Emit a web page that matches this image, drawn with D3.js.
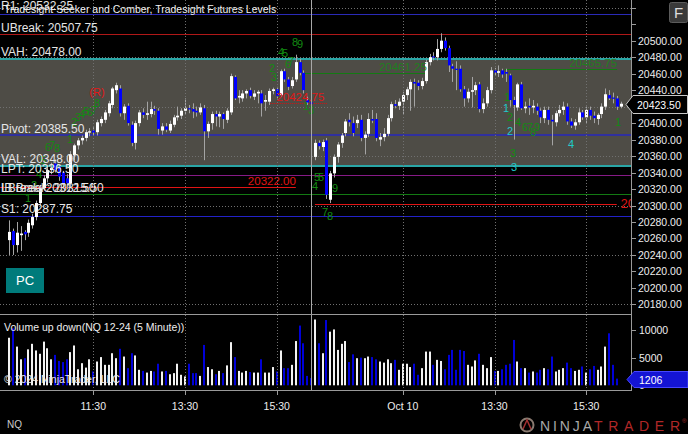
<!DOCTYPE html>
<html><head><meta charset="utf-8">
<script src="https://cdn.jsdelivr.net/npm/d3@7"></script>
<style>
html,body{margin:0;padding:0;background:#000;overflow:hidden}
svg{display:block;font-family:"Liberation Sans",Arial,sans-serif}
</style></head><body>
<svg id="c" width="688" height="434"></svg>
<script>
// ---------- DATA ----------
const firstBar = 2; // bar index of first bar (index 0 = 09:30 Oct 9, 5-minute bars)
const open = [20258,20269,20252,20264,20268,20267,20276,20286,20303,20321,
20333,20343,20351,20347,20340,20333,20327,20361,20373,20379,
20382,20389,20391,20389,20400,20404,20412,20422,20440,20442,
20412,20421,20398,20376,20400,20413,20410,20411,20417,20415,
20391,20396,20391,20398,20407,20409,20415,20418,20417,20415,
20413,20418,20390,20400,20411,20408,20411,20404,20413,20456,
20431,20430,20436,20440,20432,20436,20436,20426,20426,20439,
20441,20434,20463,20453,20445,20453,20474,20461,20428,20425,
20359,20376,20371,20379,20307,20339,20359,20376,20388,20404,
20400,20400,20404,20382,20387,20405,20405,20380,20383,20387,
20406,20423,20421,20426,20434,20441,20450,20449,20445,20451,
20474,20481,20480,20490,20500,20491,20469,20466,20466,20441,
20430,20438,20440,20447,20417,20424,20440,20464,20461,20464,
20462,20458,20428,20419,20447,20418,20421,20419,20420,20415,
20406,20416,20404,20401,20412,20416,20420,20402,20397,20401,
20413,20407,20416,20409,20405,20411,20420,20434,20431,20430,
20420];
const high = [20282,20272,20280,20275,20270,20283,20290,20306,20325,20337,
20348,20352,20356,20350,20342,20338,20366,20375,20382,20385,
20392,20394,20395,20404,20408,20416,20427,20444,20449,20446,
20423,20424,20402,20403,20416,20418,20426,20426,20421,20418,
20400,20400,20403,20410,20420,20418,20430,20422,20424,20420,
20424,20422,20402,20414,20415,20414,20413,20418,20460,20458,
20440,20440,20441,20443,20440,20440,20440,20434,20442,20443,
20444,20465,20466,20456,20456,20483,20478,20464,20432,20426,
20380,20379,20380,20382,20342,20362,20377,20388,20405,20412,
20408,20410,20410,20390,20412,20416,20412,20388,20394,20410,
20426,20428,20430,20438,20444,20453,20454,20452,20455,20477,
20484,20486,20502,20509,20504,20494,20472,20475,20470,20445,
20442,20456,20450,20450,20430,20444,20468,20467,20470,20466,
20466,20460,20432,20449,20450,20426,20430,20428,20424,20418,
20420,20420,20410,20415,20422,20426,20424,20406,20405,20418,
20416,20420,20420,20414,20412,20424,20442,20440,20437,20433,
20426];
const low = [20240,20240,20243,20245,20258,20262,20272,20282,20300,20318,
20328,20338,20340,20330,20322,20320,20322,20355,20368,20374,
20378,20384,20385,20385,20396,20400,20408,20418,20436,20408,
20404,20397,20372,20368,20396,20406,20404,20407,20410,20386,
20386,20389,20388,20395,20403,20405,20411,20412,20406,20408,
20410,20355,20382,20392,20396,20395,20393,20400,20410,20428,
20424,20426,20430,20430,20428,20424,20408,20415,20422,20435,
20430,20432,20450,20440,20442,20450,20458,20436,20422,20424,
20355,20368,20366,20308,20303,20334,20352,20370,20384,20396,
20384,20394,20378,20362,20383,20400,20378,20372,20378,20384,
20402,20418,20416,20410,20428,20415,20420,20440,20441,20448,
20470,20476,20476,20486,20488,20462,20450,20440,20438,20420,
20425,20419,20434,20413,20412,20420,20436,20458,20456,20455,
20450,20420,20380,20415,20416,20412,20410,20412,20410,20400,
20400,20398,20373,20396,20408,20410,20398,20394,20392,20398,
20404,20400,20404,20400,20398,20406,20416,20428,20424,20416,
20418];
const close = [20268,20252,20267,20266,20265,20279,20286,20303,20321,20333,
20343,20346,20343,20335,20326,20327,20362,20373,20379,20382,
20389,20390,20388,20401,20405,20413,20424,20442,20446,20412,
20420,20400,20376,20400,20413,20410,20412,20417,20415,20393,
20396,20392,20399,20407,20409,20415,20418,20417,20414,20413,
20419,20390,20399,20411,20408,20411,20405,20415,20457,20430,
20433,20436,20439,20433,20436,20438,20424,20428,20439,20441,
20433,20463,20453,20444,20452,20474,20461,20440,20425,20424.75,
20376,20372,20377,20313,20339,20359,20374,20385,20402,20401,
20388,20404,20382,20386,20405,20403,20382,20383,20387,20406,
20423,20421,20426,20434,20441,20450,20448,20445,20451,20474,
20480,20480,20490,20500,20491,20470,20466,20465,20441,20430,
20438,20440,20446,20417,20424,20440,20464,20461,20463,20459,
20460,20428,20422,20447,20418,20420,20419,20421,20415,20407,
20416,20404,20402,20412,20416,20420,20402,20397,20401,20413,
20407,20416,20409,20406,20410,20420,20435,20430,20430,20420,
20423.5];
const volume = [8600,10300,7000,4700,4900,6500,7500,6300,5700,7900,
6700,4700,5500,4400,4200,4700,6000,7200,2900,4000,
3200,4700,2500,4300,5100,3700,3700,5800,4900,6600,
5200,3100,5800,5400,2800,2600,2300,2600,2500,3900,
2500,2600,2000,2200,3900,1900,1600,3900,2200,2200,
1700,7300,3300,2900,2000,2600,2200,3600,7800,5100,
2600,2300,2600,2400,2300,2300,4700,2300,2300,3300,
2500,6300,3100,3100,3700,8000,10800,7600,1700,1300,
11900,7600,5800,11800,9700,10100,6400,7500,8000,4200,
5600,4900,5000,4900,5200,5100,4700,4300,4100,4700,
4000,4600,2800,3900,3900,3300,3900,1900,3100,6100,
6100,3700,4600,4400,2900,5500,6400,2800,6400,6200,
3700,3400,4500,5700,3700,3100,5100,2600,2600,2900,
3700,3900,8200,4300,3100,3100,2300,2500,2300,2800,
3100,2900,5200,2500,2800,3100,4100,3100,2600,2800,
3400,2300,2900,3500,2800,3400,7000,9400,3700,1206];
const lastPrice = 20423.50;
const lastVolume = 1206;

const timeTickIdx = [24, 48, 72, 105, 129, 153];
const timeTickLabels = ["11:30", "13:30", "15:30", "Oct 10", "13:30", "15:30"];
const sessionBreakIdx = 80.9;

const priceTicks = d3.range(20180, 20541, 20);
const priceLabelMax = 20500;
const priceGrid = [20180, 20240, 20300, 20360, 20420, 20480, 20540];
const volTicks = [0, 5000, 10000];

const levelNames  = ["R1", "UBreak", "VAH", "Pivot", "VAL", "LPT", "LBreak", "S1"];
const levelValues = [20532.25, 20507.75, 20478.00, 20385.50, 20348.00, 20336.50, 20313.50, 20287.75];
const levelText   = ["20532.25", "20507.75", "20478.00", "20385.50", "20348.00", "20336.50", "20312.50", "20287.75"];
const levelColors = ["#2a2ab8", "#b01818", "#2aa6a6", "#30309e", "#2aa6a6", "#861a86", "#137a13", "#2222c8"];
const levelWidths = [1, 1, 2, 2, 2, 1, 1, 1];
const extraLabel = "IB Break: 20315.50";

const segValues = [20322.00, 20302.25, 20461.25, 20465.75, 20424.75];
const segStart  = [-0.5, 82, 78.9, 131.7, 70.2];
const segEnd    = [77.0, 161, 111.3, 161.1, 85.2];
const segColors = ["#e01414", "#e01414", "#137a13", "#137a13", "#d01414"];

const greenText = ["1","2","4","5","6","7","8","1","2","3","4","5","6","7","8",
  "2","3","4","5","6","7","8","9","1","3",
  "5","5","4","9","7","8",
  "1","2","4","6","7","8","9","3","1"];
const greenIdx = [6.91,8.48,9.79,10.83,12.14,13.19,14.5,17.9,18.95,20,21.04,22.09,23.14,24.18,24.97,
  70.77,71.3,73.12,74.17,74.95,75.74,76.78,78.1,79.67,80.97,
  82.54,83.59,82.02,87.25,84.64,85.95,
  132.27,133.05,135.15,136.98,138.29,139.08,140.12,133.84,161.32];
const greenPrice = [20309.1,20324.9,20338.2,20355.2,20371,20373.4,20369.8,20380.7,20401.3,20407.4,20411,20414.7,20413.5,20415.9,20424.4,
  20466.9,20455.9,20486.3,20485.1,20471.7,20475.4,20498.4,20496,20420.8,20415.9,
  20334.6,20334.6,20323.7,20321.2,20292.1,20287.3,
  20431.7,20407.4,20401.3,20395.3,20395.3,20389.2,20395.3,20363.7,20401.3];
const cyanText = ["1","2","3","4"];
const cyanIdx = [132.01,133.05,134.1,149.02];
const cyanPrice = [20418.3,20390.4,20346.7,20374.6];
const rMarkIdx = 24.97, rMarkPrice = 20437.7;

// ---------- LAYOUT ----------
const W = 688, H = 434;
const plotRight = 631, priceBottom = 314, volBottom = 390;
const x = d3.scaleLinear().domain([0, 162]).range([1.6, 1.6 + 162 * 3.821]);
const y = d3.scaleLinear().domain([20180, 20500]).range([304.4, 40.7]);
const yv = d3.scaleLinear().domain([0, 10000]).range([385.3, 330]);

const svg = d3.select("#c");
svg.append("rect").attr("width", W).attr("height", H).attr("fill", "#000");
const defs = svg.append("defs");
defs.append("clipPath").attr("id", "cp").append("rect").attr("x", 0).attr("y", 0).attr("width", plotRight).attr("height", priceBottom);
defs.append("clipPath").attr("id", "cv").append("rect").attr("x", 0).attr("y", priceBottom).attr("width", plotRight).attr("height", volBottom - priceBottom);

const gp = svg.append("g").attr("clip-path", "url(#cp)");
const gv = svg.append("g").attr("clip-path", "url(#cv)");

// value area band
gp.append("rect").attr("x", 0).attr("width", plotRight)
  .attr("y", y(levelValues[2])).attr("height", y(levelValues[4]) - y(levelValues[2]))
  .attr("fill", "#4e4c46");

// grid
gp.selectAll(".hg").data(priceGrid).join("line")
  .attr("x1", 0).attr("x2", plotRight)
  .attr("y1", d => Math.round(y(d)) + 0.5).attr("y2", d => Math.round(y(d)) + 0.5)
  .attr("stroke", "#707070").attr("stroke-dasharray", "1,2");
svg.selectAll(".vg").data(timeTickIdx).join("line")
  .attr("x1", d => Math.round(x(d)) + 0.5).attr("x2", d => Math.round(x(d)) + 0.5)
  .attr("y1", 0).attr("y2", volBottom)
  .attr("stroke", "#707070").attr("stroke-dasharray", "1,2");

// level lines
levelValues.forEach((v, k) => {
  const yy = levelWidths[k] === 2 ? Math.round(y(v)) : Math.round(y(v)) + 0.5;
  gp.append("line").attr("x1", 0).attr("x2", plotRight).attr("y1", yy).attr("y2", yy)
    .attr("stroke", levelColors[k]).attr("stroke-width", levelWidths[k]);
});
// segment lines
segValues.forEach((v, k) => {
  const yy = Math.round(y(v)) + 0.5;
  gp.append("line").attr("x1", x(segStart[k])).attr("x2", x(segEnd[k])).attr("y1", yy).attr("y2", yy)
    .attr("stroke", segColors[k]).attr("stroke-width", 1)
    .attr("stroke-dasharray", k === 4 ? "1,1" : null);
});

// session break
svg.append("line").attr("x1", Math.round(x(sessionBreakIdx)) + 0.5).attr("x2", Math.round(x(sessionBreakIdx)) + 0.5)
  .attr("y1", 0).attr("y2", volBottom).attr("stroke", "#a8a8a8");

// candles
const bars = open.map((o, k) => ({ i: firstBar + k, o, h: high[k], l: low[k], c: close[k] }));
const cg = gp.append("g");
bars.forEach(b => {
  const cx = Math.round(x(b.i));
  cg.append("rect").attr("x", cx).attr("width", 1)
    .attr("y", y(b.h)).attr("height", Math.max(1, y(b.l) - y(b.h))).attr("fill", "#a4a4a4");
  const top = y(Math.max(b.o, b.c)), bot = y(Math.min(b.o, b.c));
  cg.append("rect").attr("x", cx - 1).attr("width", 3)
    .attr("y", top).attr("height", Math.max(1.2, bot - top))
    .attr("fill", b.c >= b.o ? "#ffffff" : "#0000ff");
});

// volume bars
volume.forEach((v, k) => {
  const b = bars[k];
  const cx = Math.round(x(b.i));
  gv.append("rect").attr("x", cx - 1).attr("width", 2)
    .attr("y", yv(v)).attr("height", yv(0) - yv(v))
    .attr("fill", b.c >= b.o ? "#f2f2f2" : "#0000d8");
});

// segment labels
gp.append("text").attr("x", x(segEnd[0])).attr("y", y(segValues[0]) - 2).attr("text-anchor", "end")
  .attr("font-size", 11.5).attr("fill", "#e01414").text("20322.00");
gp.append("text").attr("x", x(segEnd[1]) + 4).attr("y", y(segValues[1]) + 4.5)
  .attr("font-size", 12.5).attr("fill", "#e01414").text("20302.25");
gp.append("text").attr("x", x(segEnd[2])).attr("y", y(segValues[2]) - 2).attr("text-anchor", "end")
  .attr("font-size", 11.5).attr("fill", "#1f7f1f").text("20461.25");
gp.append("text").attr("x", x(segEnd[3])).attr("y", y(segValues[3]) - 2).attr("text-anchor", "end")
  .attr("font-size", 11.5).attr("fill", "#1f7f1f").text("20465.75");
gp.append("text").attr("x", x(78.2)).attr("y", y(segValues[4]) - 2).attr("text-anchor", "middle")
  .attr("font-size", 11.5).attr("fill", "#e01818").text("20424.75");
gp.append("text").attr("x", x(rMarkIdx)).attr("y", y(rMarkPrice) + 4).attr("text-anchor", "middle")
  .attr("font-size", 11).attr("fill", "#e01818").text("(R)");

// count digits
greenText.forEach((t, k) => {
  gp.append("text").attr("x", x(greenIdx[k])).attr("y", y(greenPrice[k]) + 4).attr("text-anchor", "middle")
    .attr("font-size", 11).attr("fill", "#128a12").text(t);
});
cyanText.forEach((t, k) => {
  gp.append("text").attr("x", x(cyanIdx[k])).attr("y", y(cyanPrice[k]) + 4).attr("text-anchor", "middle")
    .attr("font-size", 11).attr("fill", "#22caca").text(t);
});

// level labels
levelValues.forEach((v, k) => {
  gp.append("text").attr("x", 1).attr("y", y(v) - (k === 0 ? 4 : 2.5))
    .attr("font-size", 12).attr("fill", "#e6e6e6")
    .text(levelNames[k] + ": " + levelText[k]);
});
gp.append("text").attr("x", 1).attr("y", y(levelValues[6]) - 2.5)
  .attr("font-size", 12).attr("fill", "#e6e6e6").text(extraLabel);

// title
svg.append("text").attr("x", 4).attr("y", 13.3).attr("font-size", 10.5).attr("fill", "#f0f0f0")
  .text("Tradesight Seeker and Comber, Tradesight Futures Levels");

// panel frame
svg.append("line").attr("x1", 0).attr("x2", plotRight).attr("y1", priceBottom + 0.5).attr("y2", priceBottom + 0.5).attr("stroke", "#9a9a9a");
svg.append("line").attr("x1", 0).attr("x2", plotRight).attr("y1", volBottom + 0.5).attr("y2", volBottom + 0.5).attr("stroke", "#9a9a9a");
svg.append("line").attr("x1", plotRight + 0.5).attr("x2", plotRight + 0.5).attr("y1", 0).attr("y2", volBottom + 1).attr("stroke", "#9a9a9a");

// price axis
const ya = svg.append("g");
priceTicks.forEach(t => {
  const yy = Math.round(y(t)) + 0.5;
  ya.append("line").attr("x1", plotRight).attr("x2", plotRight + 5).attr("y1", yy).attr("y2", yy).attr("stroke", "#9a9a9a");
  if (t <= priceLabelMax) ya.append("text").attr("x", 638).attr("y", y(t) + 4).attr("font-size", 10.5)
    .attr("fill", "#eeeeee").text(d3.format(".2f")(t));
});
// volume axis
volTicks.forEach(t => {
  const yy = Math.round(yv(t)) + 0.5;
  ya.append("line").attr("x1", plotRight).attr("x2", plotRight + 5).attr("y1", yy).attr("y2", yy).attr("stroke", "#9a9a9a");
  ya.append("text").attr("x", 639).attr("y", yv(t) + 4).attr("font-size", 10.5).attr("fill", "#eeeeee").text(t);
});
// time axis
timeTickIdx.forEach((t, k) => {
  const xx = Math.round(x(t)) + 0.5;
  svg.append("line").attr("x1", xx).attr("x2", xx).attr("y1", volBottom).attr("y2", volBottom + 5).attr("stroke", "#9a9a9a");
  svg.append("text").attr("x", x(t)).attr("y", 410).attr("text-anchor", "middle").attr("font-size", 10.5)
    .attr("fill", "#eeeeee").text(timeTickLabels[k]);
});

// last price marker
const ly = Math.round(y(lastPrice)) + 0.5;
svg.append("path").attr("d", `M626,${ly} L633,${ly - 9} L687.5,${ly - 9} L687.5,${ly + 9} L633,${ly + 9} Z`)
  .attr("fill", "#000").attr("stroke", "#c8c8c8");
svg.append("text").attr("x", 637).attr("y", ly + 4).attr("font-size", 10.5).attr("fill", "#ffffff").text(d3.format(".2f")(lastPrice));
// last volume marker
const lv = Math.round(yv(lastVolume)) + 0.5;
svg.append("path").attr("d", `M627,${lv} L634,${lv - 8} L688,${lv - 8} L688,${lv + 8} L634,${lv + 8} Z`)
  .attr("fill", "#1414d4").attr("stroke", "#4646ff");
svg.append("text").attr("x", 639).attr("y", lv + 4).attr("font-size", 10.5).attr("fill", "#ffffff").text(lastVolume);

// volume panel texts
svg.append("text").attr("x", 4).attr("y", 331).attr("font-size", 10.5).attr("fill", "#eeeeee")
  .text("Volume up down(NQ 12-24 (5 Minute))");
svg.append("text").attr("x", 4).attr("y", 383).attr("font-size", 10.5).attr("fill", "#e8e8e8")
  .text("© 2024 NinjaTrader, LLC");
svg.append("text").attr("x", 7).attr("y", 428).attr("font-size", 10).attr("fill", "#cccccc").text("NQ");

// PC button
svg.append("rect").attr("x", 6).attr("y", 268).attr("width", 38).attr("height", 25).attr("fill", "#007b7b");
svg.append("text").attr("x", 25).attr("y", 285).attr("text-anchor", "middle").attr("font-size", 13).attr("fill", "#ffffff").text("PC");
// F button
svg.append("rect").attr("x", 669.5).attr("y", 2.5).attr("width", 18).attr("height", 20).attr("rx", 2)
  .attr("fill", "#3a3a3a").attr("stroke", "#5c5c5c");
svg.append("text").attr("x", 678.5).attr("y", 18).attr("text-anchor", "middle").attr("font-size", 15).attr("fill", "#dddddd").text("F");

// NinjaTrader logo
svg.append("circle").attr("cx", 527).attr("cy", 425).attr("r", 6.5).attr("fill", "none").attr("stroke", "#8a7a70").attr("stroke-width", 2);
svg.append("path").attr("d", "M523,429 L527,420 L531,429").attr("fill", "none").attr("stroke", "#a03030").attr("stroke-width", 1.5);
svg.append("text").attr("x", 540).attr("y", 430.5).attr("font-size", 14).attr("font-weight", 300)
  .attr("textLength", 52).attr("lengthAdjust", "spacing").attr("fill", "#a8a8a8").text("NINJA");
svg.append("text").attr("x", 594).attr("y", 430.5).attr("font-size", 14).attr("font-weight", 300)
  .attr("textLength", 86).attr("lengthAdjust", "spacing").attr("fill", "#b02828").text("TRADER");
svg.append("text").attr("x", 682).attr("y", 423).attr("font-size", 6).attr("fill", "#b02828").text("®");
</script>
</body></html>
